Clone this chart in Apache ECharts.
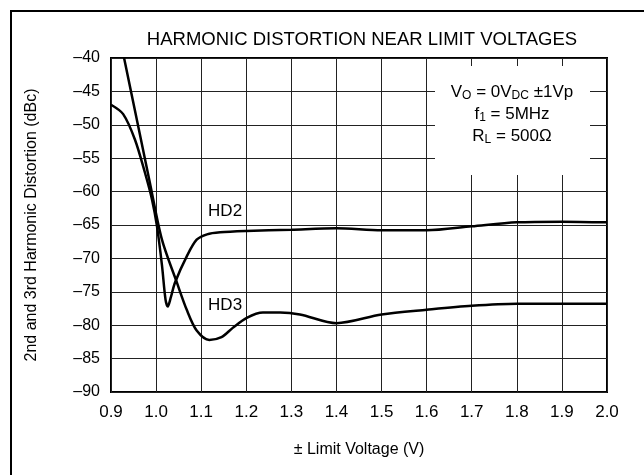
<!DOCTYPE html>
<html>
<head>
<meta charset="utf-8">
<script src="https://cdn.jsdelivr.net/npm/echarts@6/dist/echarts.min.js"></script>
<style>
  html, body { margin: 0; padding: 0; background: #fff; }
  #chart { width: 644px; height: 475px; }
</style>
</head>
<body>
<div id="chart"></div>
<script>
// values: [limit voltage (V), distortion (dBc)]
var hd2 = [
  [0.9, -47.0], [0.927, -48.4], [0.953, -52.2], [0.975, -57.1], [0.991, -61.2],
  [1.002, -65.2], [1.013, -71.0], [1.021, -76.2], [1.026, -77.2], [1.032, -76.0],
  [1.042, -73.6], [1.068, -69.7], [1.09, -67.2], [1.113, -66.4], [1.142, -66.1],
  [1.2, -65.9], [1.3, -65.7], [1.4, -65.5], [1.5, -65.8], [1.6, -65.8],
  [1.7, -65.2], [1.8, -64.6], [1.9, -64.5], [2.0, -64.6]
];
var hd3 = [
  [0.929, -40.0], [0.964, -51.4], [0.986, -58.6], [1.013, -67.2], [1.046, -73.6],
  [1.068, -77.7], [1.09, -80.8], [1.118, -82.2], [1.145, -81.8], [1.17, -80.4],
  [1.201, -78.9], [1.237, -78.1], [1.275, -78.1], [1.319, -78.4], [1.4, -79.7],
  [1.5, -78.4], [1.6, -77.7], [1.7, -77.1], [1.8, -76.8], [1.9, -76.8], [2.0, -76.8]
];
var xTicks = { min: 0.9, max: 2.0, step: 0.1 };
var yTicks = { min: -90, max: -40, step: 5 };
var curveLabels = [
  { name: "HD2", coord: [1.153, -63.0] },
  { name: "HD3", coord: [1.153, -77.0] }
];

var FONT = "Liberation Sans";
var chart = echarts.init(document.getElementById("chart"));

function curve(name, data, label) {
  return {
    name: name,
    type: "line",
    data: data,
    smooth: 0.3,
    symbol: "none",
    lineStyle: { color: "#000", width: 2.5 },
    z: 3,
    markPoint: {
      symbol: "circle",
      symbolSize: 0,
      silent: true,
      data: [{
        coord: label.coord,
        label: {
          show: true,
          formatter: label.name,
          color: "#000",
          fontFamily: FONT,
          fontSize: 17
        }
      }]
    }
  };
}

var option = {
  animation: false,
  backgroundColor: "#fff",
  title: {
    text: "HARMONIC DISTORTION NEAR LIMIT VOLTAGES",
    left: 357,
    top: 25,
    textAlign: "center",
    textStyle: { fontFamily: FONT, fontSize: 18.5, fontWeight: "normal", color: "#000" }
  },
  grid: {
    left: 111,
    right: 37,
    top: 58,
    bottom: 83,
    show: true,
    borderColor: "#000",
    borderWidth: 2
  },
  xAxis: {
    type: "value",
    min: xTicks.min,
    max: xTicks.max,
    interval: xTicks.step,
    name: "\u00b1 Limit Voltage (V)",
    nameLocation: "middle",
    nameGap: 50,
    nameTextStyle: { fontFamily: FONT, fontSize: 16, color: "#000" },
    axisLine: { show: false },
    axisTick: { show: false },
    axisLabel: {
      margin: 12,
      fontFamily: FONT,
      fontSize: 17,
      color: "#000",
      formatter: function (v) { return v.toFixed(1); }
    },
    splitLine: { show: true, lineStyle: { color: "#222", width: 1 } }
  },
  yAxis: {
    type: "value",
    min: yTicks.min,
    max: yTicks.max,
    interval: yTicks.step,
    name: "2nd and 3rd Harmonic Distortion (dBc)",
    nameLocation: "middle",
    nameGap: 71,
    nameTextStyle: { fontFamily: FONT, fontSize: 16, color: "#000" },
    axisLine: { show: false },
    axisTick: { show: false },
    axisLabel: {
      margin: 11,
      fontFamily: FONT,
      fontSize: 16,
      color: "#000",
      formatter: function (v) { return String(v).replace("-", "\u2013"); }
    },
    splitLine: { show: true, lineStyle: { color: "#222", width: 1 } }
  },
  graphic: [
    {
      type: "rect",
      z: 1,
      silent: true,
      shape: { x: 11, y: 11, width: 700, height: 600 },
      style: { fill: null, stroke: "#000", lineWidth: 2 }
    },
    {
      type: "rect",
      z: 10,
      silent: true,
      shape: { x: 435, y: 66, width: 155, height: 109 },
      style: { fill: "#fff" }
    },
    {
      type: "text",
      z: 11,
      x: 512,
      y: 81,
      style: {
        text: "V{s|O} = 0V{s|DC} \u00b11Vp\nf{s|1} = 5MHz\nR{s|L} = 500\u03a9",
        fontFamily: FONT,
        fontSize: 17,
        lineHeight: 22,
        fill: "#000",
        align: "center",
        verticalAlign: "top",
        rich: {
          s: { fontFamily: FONT, fontSize: 12, padding: [8, 0, 0, 0] }
        }
      }
    }
  ],
  series: [
    curve("HD2", hd2, curveLabels[0]),
    curve("HD3", hd3, curveLabels[1])
  ]
};

chart.setOption(option);
</script>
</body>
</html>
